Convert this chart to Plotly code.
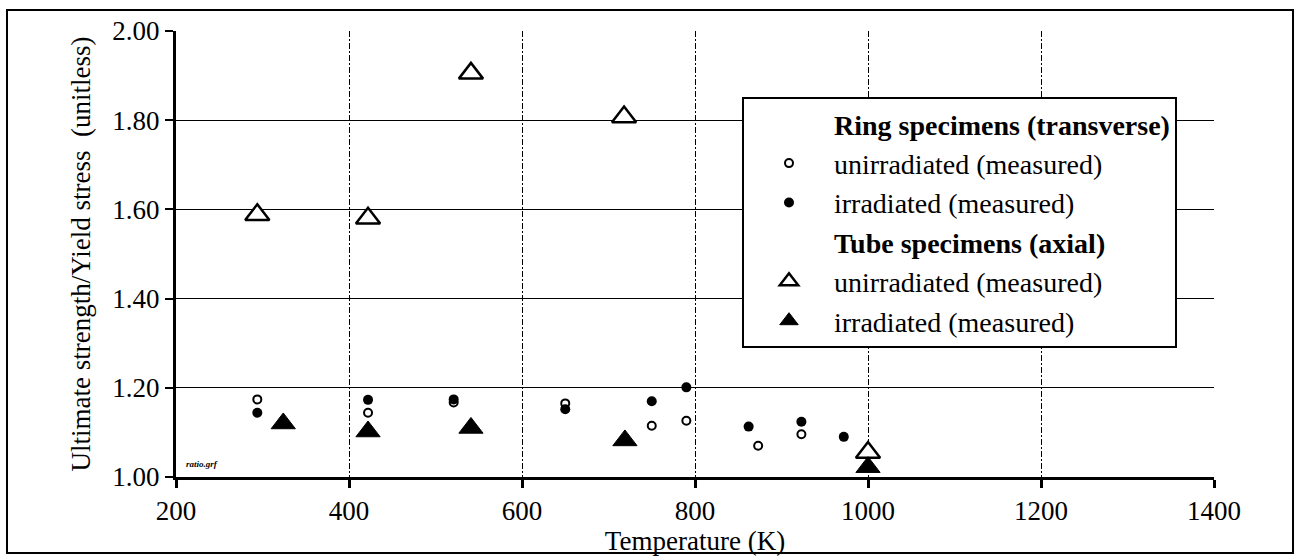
import plotly.graph_objects as go

# Ring specimens (transverse)
ring_unirr_temp = [294, 422, 521, 650, 750, 790, 873, 923]
ring_unirr_ratio = [1.174, 1.144, 1.167, 1.165, 1.115, 1.126, 1.070, 1.096]
ring_irr_temp = [294, 422, 521, 650, 750, 790, 862, 923, 972]
ring_irr_ratio = [1.144, 1.173, 1.174, 1.152, 1.170, 1.201, 1.113, 1.124, 1.090]

# Tube specimens (axial)
tube_unirr_temp = [294, 422, 541, 718, 1000]
tube_unirr_ratio = [1.588, 1.580, 1.905, 1.807, 1.055]
tube_irr_temp = [324, 422, 541, 719, 1000]
tube_irr_ratio = [1.120, 1.102, 1.110, 1.082, 1.022]

x_ticks = [200, 400, 600, 800, 1000, 1200, 1400]
y_ticks = [1.00, 1.20, 1.40, 1.60, 1.80, 2.00]
y_tick_text = [f"{v:.2f}" for v in y_ticks]

FONT = "Liberation Serif"

fig = go.Figure()


def header(name):
    # legend-only heading row (no visible symbol)
    return go.Scatter(x=[None], y=[None], mode="markers", name=f"<b>{name}</b>",
                      marker=dict(size=1, color="rgba(0,0,0,0)"), hoverinfo="skip")


fig.add_trace(header("Ring specimens (transverse)"))
fig.add_trace(go.Scatter(
    x=ring_unirr_temp, y=ring_unirr_ratio, mode="markers",
    name="unirradiated (measured)",
    marker=dict(symbol="circle", size=8, color="white", line=dict(color="black", width=2)),
))
fig.add_trace(go.Scatter(
    x=ring_irr_temp, y=ring_irr_ratio, mode="markers",
    name="irradiated (measured)",
    marker=dict(symbol="circle", size=10, color="black", line=dict(color="black", width=0)),
))
fig.add_trace(header("Tube specimens (axial)"))
fig.add_trace(go.Scatter(
    x=tube_unirr_temp, y=tube_unirr_ratio, mode="markers",
    name="unirradiated (measured)",
    marker=dict(symbol="triangle-up", size=21, color="white", line=dict(color="black", width=2.5)),
))
fig.add_trace(go.Scatter(
    x=tube_irr_temp, y=tube_irr_ratio, mode="markers",
    name="irradiated (measured)",
    marker=dict(symbol="triangle-up", size=21, color="black", line=dict(color="black", width=1)),
))

fig.update_xaxes(
    range=[200, 1400], tickvals=x_ticks, ticktext=[str(t) for t in x_ticks],
    showline=True, linecolor="black", linewidth=3,
    ticks="outside", ticklen=8, tickwidth=3, tickcolor="black",
    showgrid=True, gridcolor="black", gridwidth=1, griddash="6px,2px,2px,2px",
    zeroline=False,
    tickfont=dict(family=FONT, size=27, color="black"),
    title=dict(text="Temperature (K)", font=dict(family=FONT, size=27, color="black"), standoff=2),
)
fig.update_yaxes(
    range=[1.0, 2.0], tickvals=y_ticks, ticktext=y_tick_text,
    showline=True, linecolor="black", linewidth=3,
    ticks="outside", ticklen=8, tickwidth=2, tickcolor="black",
    showgrid=True, gridcolor="black", gridwidth=1.2,
    zeroline=False,
    tickfont=dict(family=FONT, size=27, color="black"),
    title=dict(text="Ultimate strength/Yield stress  (unitless)",
               font=dict(family=FONT, size=27, color="black"), standoff=14),
)

# outer frame around the whole chart
fig.add_shape(type="rect", xref="paper", yref="paper",
              x0=(7 - 176) / 1038, x1=(1293 - 176) / 1038,
              y0=(477 - 553) / 446, y1=(477 - 10) / 446,
              line=dict(color="black", width=2), fillcolor="rgba(0,0,0,0)", layer="below")

# file tag in the lower-left corner of the plot
fig.add_annotation(text="<b><i>ratio.grf</i></b>", xref="paper", yref="paper",
                   x=0.008, y=0.03, xanchor="left", yanchor="middle", showarrow=False,
                   font=dict(family=FONT, size=9, color="black"))

fig.update_layout(
    width=1296, height=560,
    margin=dict(l=176, r=82, t=31, b=83),
    paper_bgcolor="white", plot_bgcolor="white",
    font=dict(family=FONT, color="black"),
    showlegend=True,
    legend=dict(
        x=(742 - 176) / 1038, y=(477 - 97) / 446, xanchor="left", yanchor="top",
        bgcolor="white", bordercolor="black", borderwidth=2,
        font=dict(family=FONT, size=28, color="black"),
        itemwidth=80, tracegroupgap=0, traceorder="normal",
    ),
)

fig.write_html("out.html")
